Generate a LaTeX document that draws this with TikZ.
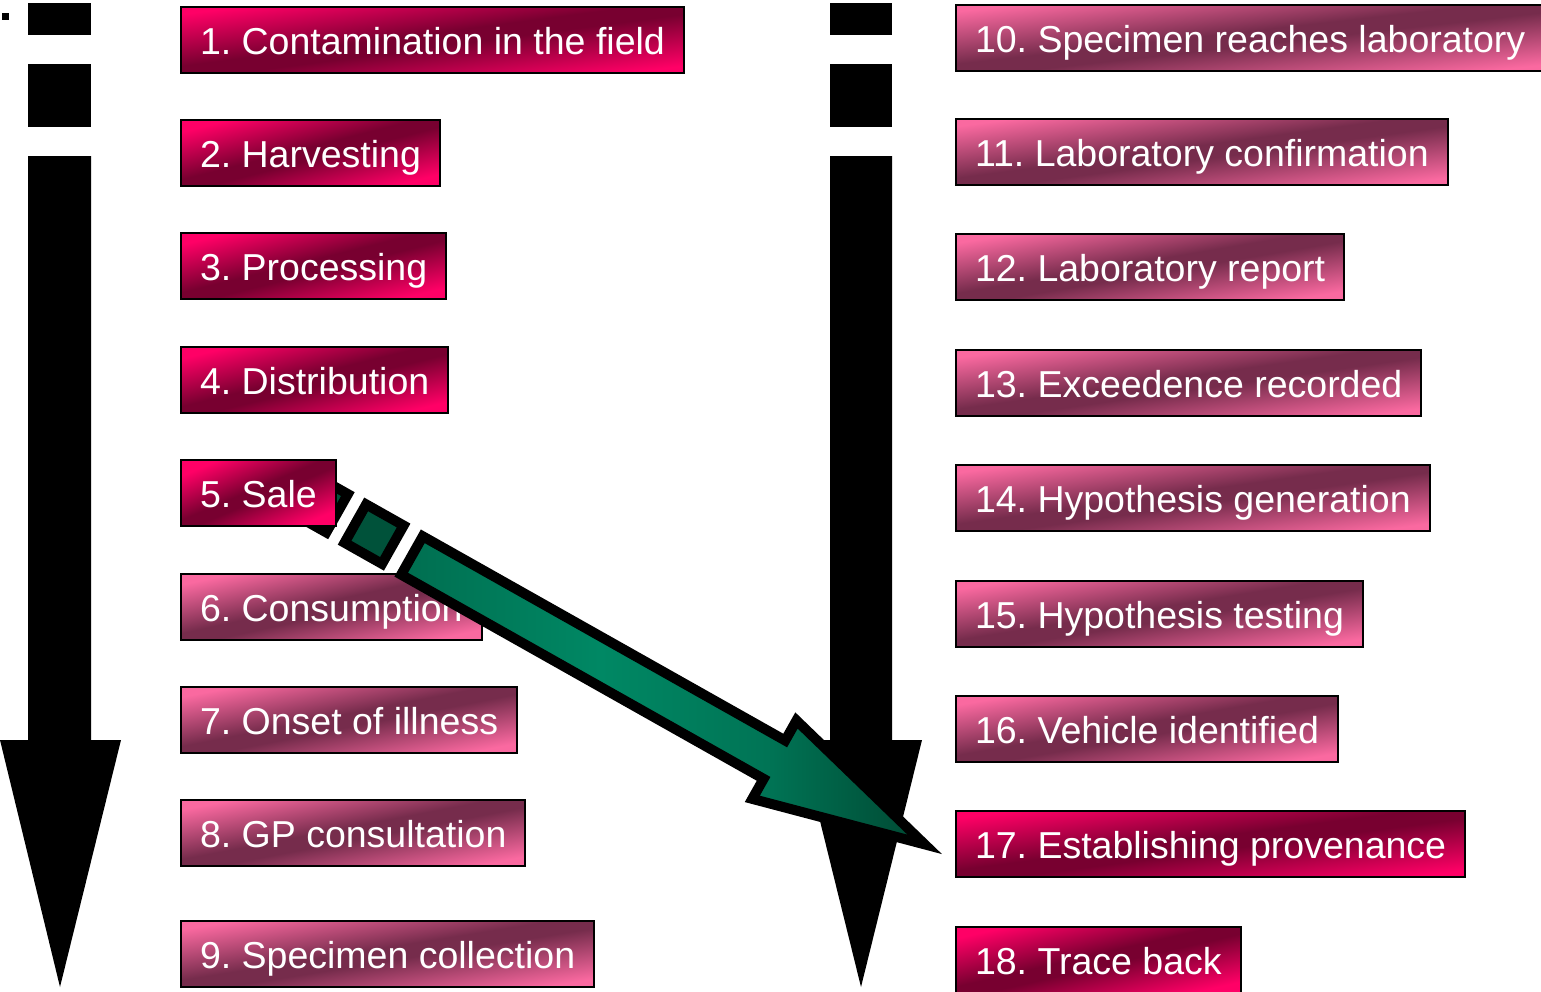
\documentclass[tikz,border=0pt]{standalone}
\usepackage{fontspec}
\setmainfont{Liberation Sans}
\frenchspacing
\definecolor{hot}{RGB}{255,0,102}
\definecolor{deep}{RGB}{120,0,48}
\definecolor{pinklt}{RGB}{250,105,160}
\definecolor{pinkdk}{RGB}{118,44,76}
\definecolor{grA}{RGB}{0,110,80}
\definecolor{grB}{RGB}{0,136,100}
\definecolor{grC}{RGB}{0,116,85}
\definecolor{grD}{RGB}{0,72,50}
\definecolor{grS}{RGB}{0,82,58}
\pgfdeclarehorizontalshading{redband}{100bp}{color(0bp)=(hot); color(25bp)=(hot); color(47bp)=(deep); color(53bp)=(deep); color(75bp)=(hot); color(100bp)=(hot)}
\pgfdeclarehorizontalshading{pinkband}{100bp}{color(0bp)=(pinklt); color(25bp)=(pinklt); color(47bp)=(pinkdk); color(53bp)=(pinkdk); color(75bp)=(pinklt); color(100bp)=(pinklt)}
\pgfdeclarehorizontalshading{grbody}{100bp}{color(0bp)=(grA); color(25bp)=(grA); color(44bp)=(grB); color(60bp)=(grC); color(75bp)=(grD); color(100bp)=(grD)}
\begin{document}
\begin{tikzpicture}[x=1pt,y=-1pt,
  basebox/.style={draw=black, line width=2pt, anchor=north west, text=white,
    font=\fontsize{37.5pt}{40pt}\selectfont, inner xsep=19pt, inner ysep=0pt,
    minimum height=66pt, text height=31.5pt, text depth=3.5pt,
    path picture={%
      \pgfpointdiff{\pgfpointanchor{path picture bounding box}{south west}}{\pgfpointanchor{path picture bounding box}{north east}}%
      \pgfgetlastxy{\bxw}{\bxh}%
      \pgfmathsetmacro\bxang{-atan2(\bxw,\bxh)}%
      \shade[shading=#1, shading angle=\bxang] (path picture bounding box.south west) rectangle (path picture bounding box.north east);}},
  redbox/.style={basebox=redband},
  pinkbox/.style={basebox=pinkband},
  blackshape/.style={fill=black, draw=none},
  grline/.style={draw=black, line width=10pt, line join=miter}]
\useasboundingbox (0,0) rectangle (1541,991);
% small mark
\fill[black] (2,13) rectangle (9,20);
% left black arrow
\path[blackshape] (28,3) rectangle (91,35);
\path[blackshape] (28,64) rectangle (91,127);
\path[blackshape] (28,156) -- (91,156) -- (91,740) -- (121,740) -- (60,987) -- (0,740) -- (28,740) -- cycle;
% right black arrow
\path[blackshape] (830,3) rectangle (892,35);
\path[blackshape] (830,64) rectangle (892,127);
\path[blackshape] (830,156) -- (892,156) -- (892,740) -- (922,740) -- (861,987) -- (800,740) -- (830,740) -- cycle;
% boxes 6-18
\node[pinkbox] (b6) at (180,573) {6. Consumption};
\node[pinkbox] (b7) at (180,686) {7. Onset of illness};
\node[pinkbox] (b8) at (180,799) {8. GP consultation};
\node[pinkbox] (b9) at (180,920) {9. Specimen collection};
\node[pinkbox] (b10) at (955,4) {10. Specimen reaches laboratory};
\node[pinkbox] (b11) at (955,118) {11. Laboratory confirmation};
\node[pinkbox] (b12) at (955,233) {12. Laboratory report};
\node[pinkbox] (b13) at (955,349) {13. Exceedence recorded};
\node[pinkbox] (b14) at (955,464) {14. Hypothesis generation};
\node[pinkbox] (b15) at (955,580) {15. Hypothesis testing};
\node[pinkbox] (b16) at (955,695) {16. Vehicle identified};
\node[redbox] (b17) at (955,810) {17. Establishing provenance};
\node[redbox] (b18) at (955,926) {18. Trace back};
% green striped arrow
\begin{scope}[shift={(408.5,553.5)}, rotate=-29.4]
  \path[grline, fill=grS] (-125,-22) rectangle (-82,22);
  \path[grline, fill=grS] (-61,-22) rectangle (-18,22);
  \path[grline, shade, shading=grbody] (4,-22) -- (420,-22) -- (420,-45) -- (592.5,0) -- (420,45) -- (420,22) -- (4,22) -- cycle;
\end{scope}
% boxes 1-5
\node[redbox] (b1) at (180,6) {1. Contamination in the field};
\node[redbox] (b2) at (180,119) {2. Harvesting};
\node[redbox] (b3) at (180,232) {3. Processing};
\node[redbox] (b4) at (180,346) {4. Distribution};
\node[redbox] (b5) at (180,459) {5. Sale};
\end{tikzpicture}
\end{document}
